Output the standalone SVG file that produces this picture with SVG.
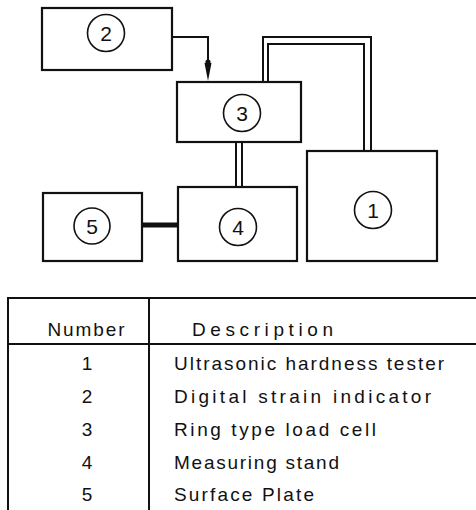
<svg xmlns="http://www.w3.org/2000/svg" width="476" height="510" viewBox="0 0 476 510">
<style>
.box{fill:#fff;stroke:#111;stroke-width:2.2}
.circ{fill:none;stroke:#111;stroke-width:1.6}
.num{font-family:"Liberation Sans",Arial,sans-serif;font-size:21px;fill:#111;text-anchor:middle}
.wire{fill:none;stroke:#111;stroke-width:2}
.tl{fill:none;stroke:#111;stroke-width:2}
.tt{font-family:"Liberation Sans",Arial,sans-serif;font-size:19px;fill:#111}
.tc{text-anchor:middle}
</style>
<rect width="476" height="510" fill="#fff"/>
<g id="connectors">
<path class="wire" d="M172,37 H208 V66"/>
<circle cx="208" cy="62" r="2.6" fill="#111"/>
<polygon points="204.5,63 211.5,63 208,81" fill="#111"/>
<path class="wire" d="M263,82 V37 H371 V151"/>
<path class="wire" d="M268,82 V44 H364 V151"/>
<path class="wire" d="M236,142 V187"/>
<path class="wire" d="M242,142 V187"/>
<path d="M142,225 H179" stroke="#111" stroke-width="5" fill="none"/>
</g>
<g id="node2">
<rect class="box" x="42" y="8" width="130" height="62"/>
<circle class="circ" cx="106" cy="33" r="18.5"/>
<text class="num" x="106" y="40.5">2</text>
</g>
<g id="node3">
<rect class="box" x="177" y="82" width="124" height="60"/>
<circle class="circ" cx="242" cy="113" r="18.5"/>
<text class="num" x="242" y="120.5">3</text>
</g>
<g id="node4">
<rect class="box" x="178" y="187" width="119" height="74"/>
<circle class="circ" cx="238" cy="227" r="18.5"/>
<text class="num" x="238" y="234.5">4</text>
</g>
<g id="node5">
<rect class="box" x="43" y="193" width="99" height="68"/>
<circle class="circ" cx="92" cy="226" r="18"/>
<text class="num" x="92" y="233.5">5</text>
</g>
<g id="node1">
<rect class="box" x="307" y="151" width="130" height="110"/>
<circle class="circ" cx="373" cy="210" r="18.5"/>
<text class="num" x="373" y="217.5">1</text>
</g>
<g id="table">
<path class="tl" d="M8,298 H476 M8,344 H476 M8,297 V510 M149,297 V510"/>
<text class="tt tc" x="86" y="336" textLength="77" lengthAdjust="spacing">Number</text>
<text class="tt" x="192" y="336" textLength="141" lengthAdjust="spacing">Description</text>
<text class="tt tc" x="87" y="370">1</text>
<text class="tt tc" x="87" y="403">2</text>
<text class="tt tc" x="87" y="436">3</text>
<text class="tt tc" x="87" y="469">4</text>
<text class="tt tc" x="87" y="501">5</text>
<text class="tt" x="174" y="370" textLength="270" lengthAdjust="spacing">Ultrasonic hardness tester</text>
<text class="tt" x="174" y="403" textLength="257" lengthAdjust="spacing">Digital strain indicator</text>
<text class="tt" x="174" y="436" textLength="202" lengthAdjust="spacing">Ring type load cell</text>
<text class="tt" x="174" y="469" textLength="165" lengthAdjust="spacing">Measuring stand</text>
<text class="tt" x="174" y="501" textLength="140" lengthAdjust="spacing">Surface Plate</text>
</g>
</svg>
